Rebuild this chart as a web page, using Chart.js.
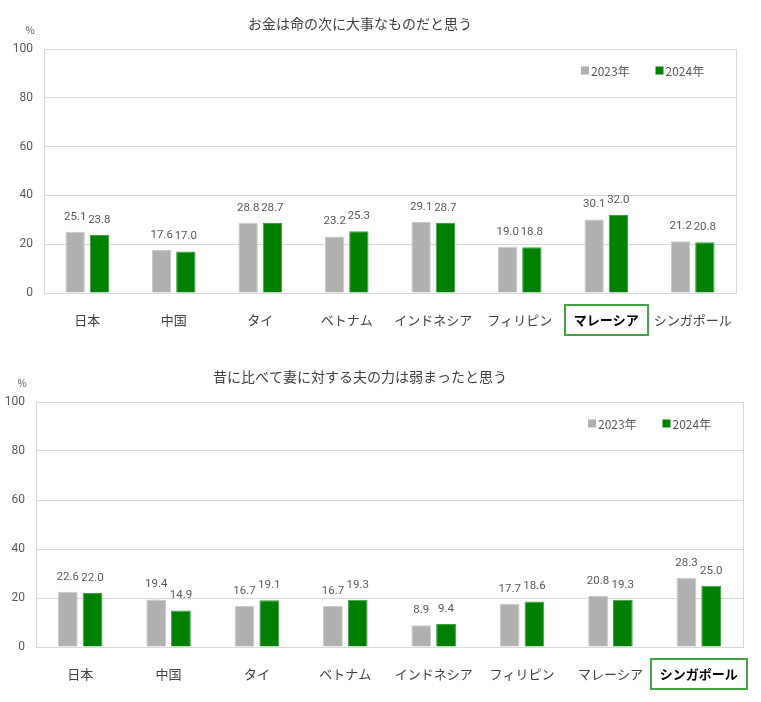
<!DOCTYPE html>
<html>
<head>
<meta charset="utf-8">
<script src="https://cdn.jsdelivr.net/npm/chart.js@4/dist/chart.umd.min.js"></script>
<style>
  html, body { margin: 0; padding: 0; background: #fff; }
  #wrap { position: relative; width: 761px; height: 702px; }
  #c1 { position: absolute; left: 0; top: 0; }
  #c2 { position: absolute; left: 0; top: 350px; }
</style>
</head>
<body>
<div id="wrap">
  <canvas id="c1" width="761" height="350"></canvas>
  <canvas id="c2" width="761" height="352"></canvas>
</div>
<script>
// ---- data ----
const categories = ['日本', '中国', 'タイ', 'ベトナム', 'インドネシア', 'フィリピン', 'マレーシア', 'シンガポール'];
const seriesNames = ['2023年', '2024年'];
const yTicks = [0, 20, 40, 60, 80, 100];

const title1 = 'お金は命の次に大事なものだと思う';
const money2023 = [25.1, 17.6, 28.8, 23.2, 29.1, 19.0, 30.1, 21.2];
const money2024 = [23.8, 17.0, 28.7, 25.3, 28.7, 18.8, 32.0, 20.8];

const title2 = '昔に比べて妻に対する夫の力は弱まったと思う';
const husband2023 = [22.6, 19.4, 16.7, 16.7, 8.9, 17.7, 20.8, 28.3];
const husband2024 = [22.0, 14.9, 19.1, 19.3, 9.4, 18.6, 19.3, 25.0];

const unitLabel = '%';

// ---- styles ----
const FONT = "'Noto Sans CJK JP', 'Noto Sans', sans-serif";
const NUMFONT = "Roboto, 'Noto Sans', sans-serif";
const GRAY = '#B0B0B0', GRAY_B = '#C9C9C9';
const GREEN = '#008000', GREEN_B = '#3FA03F';
const GRID = '#D9D9D9';
const TXT = '#595959';

const decorPlugin = {
  id: 'decor',
  afterDraw(chart, args, opts) {
    const ctx = chart.ctx;
    const ca = chart.chartArea;
    ctx.save();
    // plot border
    ctx.strokeStyle = GRID;
    ctx.lineWidth = 1;
    ctx.strokeRect(Math.round(ca.left) + 0.5, Math.round(ca.top) + 0.5,
                   Math.round(ca.right - ca.left), Math.round(ca.bottom - ca.top));
    // title
    ctx.fillStyle = '#404040';
    ctx.font = '14px ' + FONT;
    ctx.textAlign = 'center';
    ctx.textBaseline = 'middle';
    ctx.fillText(opts.title, opts.titleX, opts.titleY);
    // unit
    ctx.fillStyle = TXT;
    ctx.font = '10px ' + FONT;
    ctx.fillText(unitLabel, ca.left - 14, ca.top - 19);
    // legend
    ctx.font = '12px ' + NUMFONT;
    ctx.textAlign = 'left';
    let lx = ca.right - 155;
    const ly = ca.top + 21.5;
    chart.data.datasets.forEach(ds => {
      ctx.fillStyle = ds.backgroundColor;
      ctx.fillRect(lx, ly - 4, 8, 8);
      ctx.fillStyle = TXT;
      ctx.font = '12px ' + FONT;
      ctx.fillText(ds.label, lx + 10, ly + 0.5);
      lx += 74.5;
    });
    // data labels
    ctx.font = '11.5px ' + NUMFONT;
    ctx.textAlign = 'center';
    ctx.fillStyle = TXT;
    chart.data.datasets.forEach((ds, di) => {
      const meta = chart.getDatasetMeta(di);
      meta.data.forEach((bar, i) => {
        ctx.fillText(ds.data[i].toFixed(1), bar.x, bar.y - 15);
      });
    });
    // highlight box around a category label
    const xs = chart.scales.x;
    const hi = opts.highlight;
    const cx = xs.getPixelForValue(hi);
    ctx.font = 'bold 13px ' + FONT;
    const tw = ctx.measureText(chart.data.labels[hi]).width;
    const cy = xs.top + 27;
    ctx.strokeStyle = '#43A343';
    ctx.lineWidth = 2;
    ctx.strokeRect(Math.round(cx - tw / 2 - 9), Math.round(cy - 15), Math.round(tw + 18), 30);
    ctx.restore();
  }
};

function makeChart(id, d23, d24, title, hl, pad, xH, yW, titleY) {
  return new Chart(document.getElementById(id), {
    type: 'bar',
    data: {
      labels: categories,
      datasets: [
        { label: seriesNames[0], data: d23, backgroundColor: GRAY, borderColor: GRAY_B, borderWidth: 1 },
        { label: seriesNames[1], data: d24, backgroundColor: GREEN, borderColor: GREEN_B, borderWidth: 1 }
      ]
    },
    options: {
      responsive: false,
      animation: false,
      layout: { padding: pad },
      categoryPercentage: 0.56,
      barPercentage: 0.8,
      plugins: {
        legend: { display: false },
        tooltip: { enabled: false },
        decor: { title: title, titleX: 360, titleY: titleY, highlight: hl }
      },
      scales: {
        x: {
          grid: { display: false },
          border: { display: true, color: GRID },
          ticks: {
            padding: 11,
            color: (c) => c.index === hl ? '#000000' : '#404040',
            font: (c) => ({ family: FONT, size: 13, weight: c.index === hl ? 'bold' : 'normal' })
          },
          afterFit: (s) => { s.height = xH; }
        },
        y: {
          min: 0, max: 100,
          afterBuildTicks: (s) => { s.ticks = yTicks.map(v => ({ value: v })); },
          grid: { color: GRID, drawTicks: false },
          border: { display: true, color: GRID },
          ticks: { padding: 11, color: TXT, font: { family: NUMFONT, size: 12 } },
          afterFit: (s) => { s.width = yW; }
        }
      }
    },
    plugins: [decorPlugin]
  });
}

makeChart('c1', money2023, money2024, title1, 6, { top: 49, right: 25, bottom: 0, left: 0 }, 57, 44, 24);
makeChart('c2', husband2023, husband2024, title2, 7, { top: 52, right: 18, bottom: 0, left: 0 }, 55, 36, 27);
</script>
</body>
</html>
